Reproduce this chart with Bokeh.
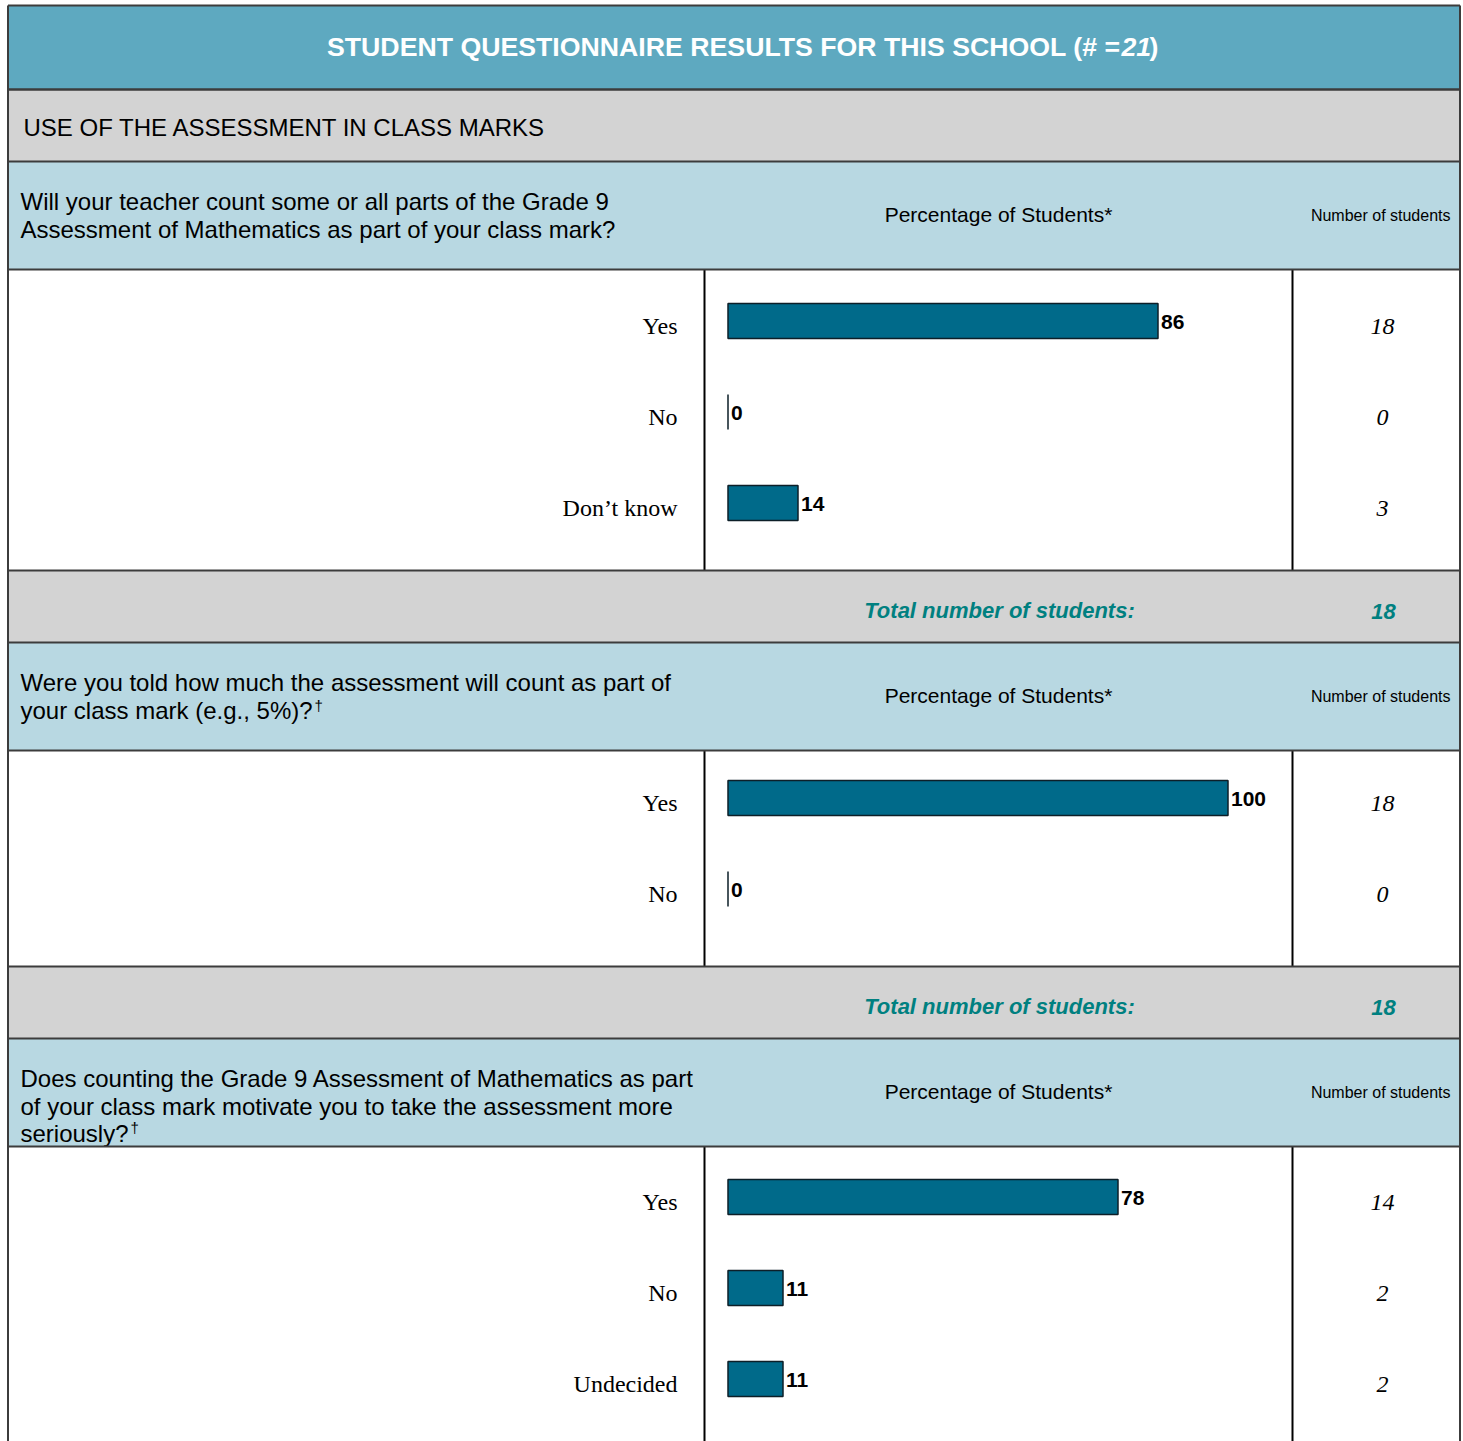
from bokeh.plotting import figure
from bokeh.models import Range1d
from bokeh.core.properties import value
from bokeh.embed import file_html
from bokeh.resources import INLINE

# ---------------- data ----------------
title_main = "STUDENT QUESTIONNAIRE RESULTS FOR THIS SCHOOL (# ="
title_n = "21"
section_title = "USE OF THE ASSESSMENT IN CLASS MARKS"

q1_lines = ["Will your teacher count some or all parts of the Grade 9",
            "Assessment of Mathematics as part of your class mark?"]
q1_options = ["Yes", "No", "Don\u2019t know"]
q1_pct = [86, 0, 14]
q1_counts = ["18", "0", "3"]
q1_total = "18"

q2_lines = ["Were you told how much the assessment will count as part of",
            "your class mark (e.g., 5%)?"]
q2_options = ["Yes", "No"]
q2_pct = [100, 0]
q2_counts = ["18", "0"]
q2_total = "18"

q3_lines = ["Does counting the Grade 9 Assessment of Mathematics as part",
            "of your class mark motivate you to take the assessment more",
            "seriously?"]
q3_options = ["Yes", "No", "Undecided"]
q3_pct = [78, 11, 11]
q3_counts = ["14", "2", "2"]
q3_total = None

pct_header = "Percentage of Students*"
num_header = "Number of students"
total_label = "Total number of students:"

# ---------------- styles / layout ----------------
W, H = 1463, 1441
TITLE_BG = "#5ea9c0"
GRAY_BG = "#d3d3d3"
HEAD_BG = "#b8d8e2"
BAR = "#006a8a"
TEAL = "#008080"
BORDER = "#3c3c3c"
SANS = "Liberation Sans"
SERIF = "Liberation Serif"

XL, XR = 7.5, 1459.5
TOP = 5
COL1, COL2 = 704, 1292

p = figure(width=W, height=H, x_range=Range1d(0, W), y_range=Range1d(H, 0),
           output_backend="svg", toolbar_location=None, min_border=0,
           outline_line_color=None, background_fill_color="white", border_fill_color="white")
p.axis.visible = False
p.grid.visible = False
# percentage scale: 0 % near x=728, ~5 px per percent
p.extra_x_ranges = {"pct": Range1d(-145.5, 147.1)}


def band(top, bottom, color):
    p.quad(left=[XL], right=[XR], top=[top], bottom=[bottom], fill_color=color,
           line_color=None)


def hline(y, w=2):
    p.segment(x0=[XL], x1=[XR], y0=[y], y1=[y], line_color=BORDER, line_width=w)


def txt(x, y, s, size, font=SANS, style="normal", color="black", align="left", **kw):
    p.text(x=[x], y=[y], text=[s], text_font=value(font), text_font_size=f"{size}px",
           text_font_style=style, text_color=color, text_align=align,
           text_baseline="middle", **kw)


# title
band(TOP, 89, TITLE_BG)
txt(1120, 46, title_main, 26.7, style="bold", color="white", align="right")
txt(1121, 46, title_n, 26.7, style="bold italic", color="white")
txt(1149, 46, ")", 26.7, style="bold", color="white")

# section
band(89, 161, GRAY_BG)
txt(23, 127, section_title, 24)

blocks = [
    dict(lines=q1_lines, opts=q1_options, pct=q1_pct, cnt=q1_counts, total=q1_total,
         htop=161, btop=269, bbot=570, tbot=642, first=320.5, dagger=None),
    dict(lines=q2_lines, opts=q2_options, pct=q2_pct, cnt=q2_counts, total=q2_total,
         htop=642, btop=750, bbot=966, tbot=1038, first=797.5, dagger=(314, 705)),
    dict(lines=q3_lines, opts=q3_options, pct=q3_pct, cnt=q3_counts, total=q3_total,
         htop=1038, btop=1146, bbot=1441, tbot=1441, first=1196.5, dagger=(130, 1127)),
]

for b in blocks:
    band(b["htop"], b["btop"], HEAD_BG)
    band(b["btop"], b["bbot"], "white")
    if b["total"] is not None:
        band(b["bbot"], b["tbot"], GRAY_BG)
    # header texts
    y0 = b["htop"] + 40
    for i, line in enumerate(b["lines"]):
        txt(20, y0 + 27.7 * i, line, 24)
    if b["dagger"] is not None:
        dx, dy = b["dagger"]
        txt(dx, dy, "\u2020", 15)
    txt(998, b["htop"] + 53, pct_header, 21, align="center")
    txt(1450, b["htop"] + 54, num_header, 16, align="right")
    # body
    ys = [b["first"] + 91 * i for i in range(len(b["opts"]))]
    p.segment(x0=[COL1, COL2], x1=[COL1, COL2], y0=[b["btop"]] * 2, y1=[b["bbot"]] * 2,
              line_color="black", line_width=2)
    p.text(x=[677] * len(ys), y=[y + 5 for y in ys], text=b["opts"],
           text_font=value(SERIF), text_font_size="24px", text_align="right",
           text_baseline="middle", text_color="black")
    p.hbar(y=ys, left=0, right=b["pct"], height=35, x_range_name="pct",
           fill_color=BAR, line_color="#0d1f28", line_width=1.5)
    p.text(x=b["pct"], y=[y + 0.5 for y in ys], text=[str(v) for v in b["pct"]],
           x_range_name="pct", x_offset=3, text_font=value(SANS), text_font_size="21px",
           text_font_style="bold", text_align="left", text_baseline="middle",
           text_color="black")
    p.text(x=[1382] * len(ys), y=[y + 5 for y in ys], text=b["cnt"],
           text_font=value(SERIF), text_font_size="24px", text_font_style="italic",
           text_align="center", text_baseline="middle", text_color="black")
    if b["total"] is not None:
        txt(999, b["bbot"] + 40, total_label, 22, style="bold italic", color=TEAL,
            align="center")
        txt(1383, b["bbot"] + 41, b["total"], 22, style="bold italic", color=TEAL,
            align="center")
    hline(b["htop"])
    hline(b["btop"])
    if b["total"] is not None:
        hline(b["bbot"])

hline(89, 2.5)
hline(TOP, 2)
# outer border
p.segment(x0=[XL, XR], x1=[XL, XR], y0=[TOP, TOP], y1=[H, H], line_color=BORDER,
          line_width=2)

open("out.html", "w").write(file_html(p, INLINE))
